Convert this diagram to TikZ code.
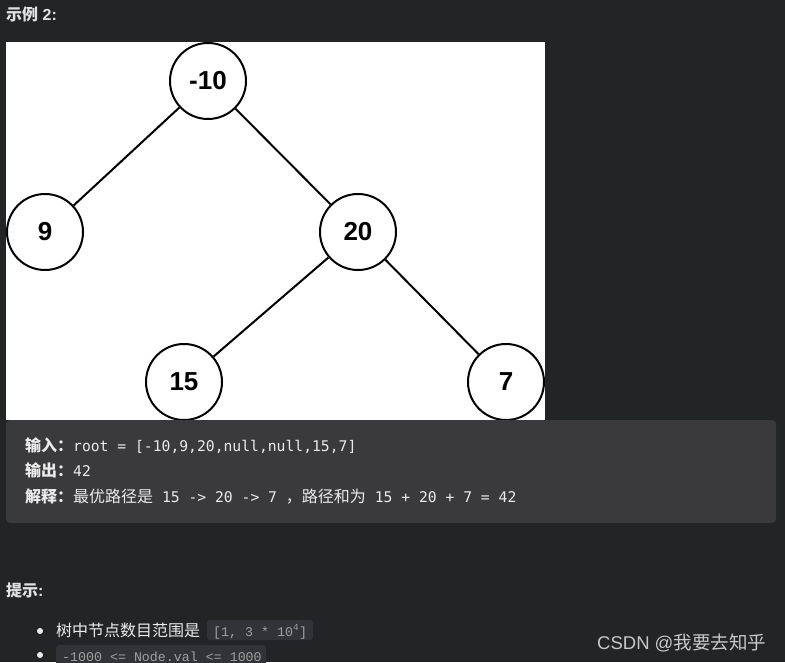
\documentclass[tikz,border=0pt]{standalone}
\usepackage{fontspec}
\setmainfont{Liberation Sans}
\newfontfamily\cjk{Noto Sans CJK SC}
\newfontfamily\monoA{DejaVu Sans Mono}
\newfontfamily\monoB{Liberation Mono}
\definecolor{pagebg}{RGB}{35,36,38}
\definecolor{codebg}{RGB}{58,58,61}
\definecolor{inlinebg}{RGB}{50,51,54}
\definecolor{txt}{RGB}{235,235,235}
\definecolor{inltxt}{RGB}{160,160,160}
\definecolor{wm}{RGB}{200,200,200}
\definecolor{headtxt}{RGB}{225,225,225}
\tikzset{
  treenode/.style={circle, draw=black, line width=2pt, fill=white, minimum size=76pt, inner sep=0pt,
    font=\fontsize{26}{30}\selectfont\bfseries, text=black},
  treeedge/.style={draw=black, line width=2pt},
  txtnode/.style={inner sep=0pt, anchor=base west, text=txt},
  inl/.style={inner sep=0pt, anchor=base west, text=inltxt, font=\monoB\fontsize{13.3}{16}\selectfont},
}
\begin{document}
\begin{tikzpicture}[x=1pt,y=-1pt]
\useasboundingbox (0,0) rectangle (785,662);
\fill[pagebg] (0,0) rectangle (785,662);
% heading
\node[txtnode, text=headtxt] (head) at (6,20) {\fontsize{16}{19}\selectfont\bfseries{\cjk 示例} 2:};
% white picture area
\fill[white] (6,42) rectangle (545,420);
\begin{scope}
\clip (6,42) rectangle (545,420);
\node[treenode] (n10) at (208,81) {-10};
\node[treenode] (n9) at (45,232) {9};
\node[treenode] (n20) at (358,232) {20};
\node[treenode] (n15) at (184,382) {15};
\node[treenode] (n7) at (506,382) {7};
\draw[treeedge] (n10) -- (n9);
\draw[treeedge] (n10) -- (n20);
\draw[treeedge] (n20) -- (n15);
\draw[treeedge] (n20) -- (n7);
\end{scope}
% code block
\fill[codebg, rounded corners=4pt] (6,420) rectangle (776,523);
\node[txtnode] (l1) at (25,451) {\fontsize{16}{19}\selectfont{\cjk\bfseries 输入：}{\monoA\fontsize{14.7}{18}\selectfont root = [-10,9,20,null,null,15,7]}};
\node[txtnode] (l2) at (25,476) {\fontsize{16}{19}\selectfont{\cjk\bfseries 输出：}{\monoA\fontsize{14.7}{18}\selectfont 42}};
\node[txtnode] (l3) at (25,502) {\fontsize{16}{19}\selectfont{\cjk\bfseries 解释：}{\cjk 最优路径是}{\monoA\fontsize{14.7}{18}\selectfont\ 15 -> 20 -> 7 }{\cjk ，路径和为}{\monoA\fontsize{14.7}{18}\selectfont\ 15 + 20 + 7 = 42}};
% hints
\node[txtnode, text=headtxt] (tips) at (6,596) {\fontsize{16}{19}\selectfont\bfseries{\cjk 提示}:};
\fill[txt] (40,631) circle (3pt);
\fill[txt] (40,655) circle (3pt);
\node[txtnode] (b1) at (56,636) {\fontsize{16}{19}\selectfont\cjk 树中节点数目范围是};
\fill[inlinebg, rounded corners=3pt] (207,620) rectangle (313,640);
\node[inl] (c1) at (213,636) {[1, 3 * 10\textsuperscript{4}]};
\fill[inlinebg, rounded corners=3pt] (56,645) rectangle (266,670);
\node[inl] (c2) at (62,661) {-1000 <= Node.val <= 1000};
% watermark
\node[txtnode, text=wm] (wmk) at (597,649) {\fontsize{18.5}{22}\selectfont CSDN @{\cjk 我要去知乎}};
\end{tikzpicture}
\end{document}
